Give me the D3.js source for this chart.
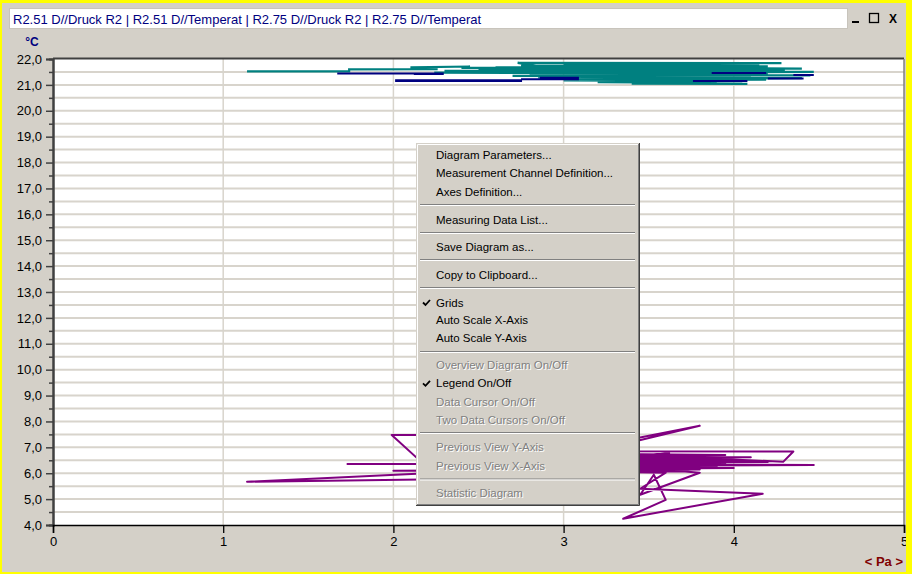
<!DOCTYPE html>
<html><head><meta charset="utf-8">
<script src="https://cdn.jsdelivr.net/npm/d3@7"></script>
<style>
html,body{margin:0;padding:0;background:#ffff00;}
svg{display:block;}
text{font-family:"Liberation Sans",Arial,sans-serif;}
</style></head>
<body>
<svg id="chart" width="912" height="574"></svg>
<script>
// ---------- data ----------
const titleText = "R2.51 D//Druck R2 | R2.51 D//Temperat | R2.75 D//Druck R2 | R2.75 D//Temperat";
const yUnit = "°C";
const xUnit = "< Pa >";
const xTicks = [0, 1, 2, 3, 4, 5];
const yTicks = [4, 5, 6, 7, 8, 9, 10, 11, 12, 13, 14, 15, 16, 17, 18, 19, 20, 21, 22];
const yMinorTicks = [4.5, 5.5, 6.5, 7.5, 8.5, 9.5, 10.5, 11.5, 12.5, 13.5, 14.5, 15.5, 16.5, 17.5, 18.5, 19.5, 20.5, 21.5];

// R2.75 trace (teal) : pressure [Pa], temperature [°C]
const seriesTeal = [
  [1.14,21.52],[1.74,21.52],[1.74,21.60],[2.26,21.61],
  [2.10,21.68],[2.45,21.71],[2.40,21.66],[2.90,21.67],
  [2.73,21.85],[4.28,21.84],[3.00,21.80],[4.15,21.78],
  [2.75,21.74],[4.20,21.72],[2.60,21.68],[4.40,21.63],
  [2.50,21.60],[4.30,21.57],[2.30,21.54],[4.47,21.50],
  [2.24,21.47],[4.20,21.44],[2.80,21.41],[4.45,21.37],
  [2.70,21.35],[4.10,21.32],[2.85,21.29],[4.40,21.26],
  [2.95,21.23],[4.19,21.20],[3.00,21.17],[4.05,21.14],
  [3.20,21.11],[3.90,21.08],[3.40,21.05],[4.08,21.04]
];
// R2.51 trace (navy), null = gap in the recording
const seriesNavy = [
  [1.67,21.44],[2.29,21.44],[2.29,21.42],[2.12,21.42], null,
  [2.01,21.15],[2.75,21.15],[2.75,21.18],[2.01,21.18], null,
  [2.75,21.22],[3.09,21.22], null,
  [2.86,21.28],[3.09,21.28], null,
  [3.87,21.46],[4.19,21.46], null,
  [3.76,21.15],[4.08,21.15], null,
  [4.20,21.25],[4.41,21.25], null,
  [4.35,21.38],[4.47,21.38]
];
// third trace (purple)
const seriesPurple = [
  [2.60,6.12],[1.14,5.67],[2.60,5.80],
  [2.60,6.38],[1.73,6.36],[2.60,6.37],
  [2.60,6.10],[2.00,6.10],[2.60,6.11],
  [2.22,6.10],[1.99,7.48],[2.60,7.48],
  [3.30,7.19],[3.80,7.83],[3.30,7.04],
  [3.30,6.85],[4.35,6.84],[4.29,6.44],[3.30,6.74],
  [3.95,6.70],[3.30,6.66],[4.10,6.62],[3.30,6.58],
  [3.85,6.55],[3.30,6.52],[4.05,6.49],[3.30,6.46],
  [4.20,6.43],[3.30,6.40],[3.95,6.37],[3.30,6.34],
  [4.47,6.32],[3.30,6.29],[3.90,6.26],[3.30,6.23],
  [4.00,6.20],[3.30,6.17],[3.80,6.14],[3.30,6.11],
  [3.70,6.08],[3.30,6.05],[3.60,6.02],
  [3.45,5.40],[4.17,5.21],[3.35,4.24],[3.60,4.97],
  [3.53,5.94],[3.45,5.17],[3.80,6.02],[3.30,6.30],
  [3.62,6.78],[3.40,6.62],[3.75,6.58],[3.42,6.44],[3.68,6.24]
];

// ---------- layout ----------
const svg = d3.select("#chart");
const W = 912, H = 574;
const plot = {left: 53, right: 904, top: 59, bottom: 525};

svg.append("rect").attr("x",0).attr("y",0).attr("width",W).attr("height",H).attr("fill","#ffff00");
svg.append("rect").attr("x",2).attr("y",3).attr("width",904).attr("height",569).attr("fill","#d4d0c8");

// title bar
svg.append("rect").attr("x",9.5).attr("y",8.5).attr("width",838).attr("height",20)
  .attr("fill","#ffffff").attr("stroke","#c8c4bc");
svg.append("text").attr("x",13).attr("y",23.5).attr("font-size",13).attr("fill","#000080").text(titleText);
// window buttons
svg.append("rect").attr("x",852).attr("y",21).attr("width",7).attr("height",2).attr("fill","#000");
svg.append("rect").attr("x",869.5).attr("y",13.5).attr("width",9).attr("height",9).attr("fill","none").attr("stroke","#000").attr("stroke-width",1.3);
svg.append("text").attr("x",893).attr("y",23).attr("text-anchor","middle").attr("font-size",12).attr("font-weight","bold").attr("fill","#000").text("X");

// scales
const x = d3.scaleLinear().domain([0,5]).range([plot.left, plot.right]);
const y = d3.scaleLinear().domain([4,22]).range([plot.bottom, plot.top]);

// plot background
svg.append("rect").attr("x",plot.left).attr("y",plot.top).attr("width",plot.right-plot.left).attr("height",plot.bottom-plot.top).attr("fill","#ffffff");

// grid
const grid = svg.append("g");
grid.selectAll("line.h").data(yTicks.concat(yMinorTicks).filter(v => v>4 && v<22)).enter().append("line")
  .attr("x1",plot.left).attr("x2",plot.right).attr("y1",d=>y(d)).attr("y2",d=>y(d))
  .attr("stroke","#d8d4cc").attr("stroke-width",2);
grid.selectAll("line.v").data(xTicks.filter(v => v>0 && v<5)).enter().append("line")
  .attr("y1",plot.top).attr("y2",plot.bottom).attr("x1",d=>x(d)).attr("x2",d=>x(d))
  .attr("stroke","#d8d4cc").attr("stroke-width",1.5);

// clip
svg.append("clipPath").attr("id","clip").append("rect")
  .attr("x",plot.left).attr("y",plot.top).attr("width",plot.right-plot.left).attr("height",plot.bottom-plot.top);
const line = d3.line().defined(d => d !== null).x(d => x(d[0])).y(d => y(d[1]));
const traces = svg.append("g").attr("clip-path","url(#clip)");
traces.append("path").datum(seriesPurple).attr("d",line).attr("fill","none").attr("stroke","#800080").attr("stroke-width",2).attr("stroke-linejoin","round");
traces.append("path").datum(seriesTeal).attr("d",line).attr("fill","none").attr("stroke","#008080").attr("stroke-width",2.2);
traces.append("path").datum(seriesNavy).attr("d",line).attr("fill","none").attr("stroke","#000080").attr("stroke-width",2);

// frame
svg.append("line").attr("x1",plot.left).attr("x2",plot.right).attr("y1",plot.top-0.5).attr("y2",plot.top-0.5).attr("stroke","#404040").attr("stroke-width",2);
svg.append("line").attr("x1",plot.right).attr("x2",plot.right).attr("y1",plot.top).attr("y2",plot.bottom).attr("stroke","#808080").attr("stroke-width",1.5);

// y axis
const fmt = d => d.toFixed(1).replace(".", ",");
const yAxis = svg.append("g").attr("transform",`translate(${plot.left},0)`)
  .call(d3.axisLeft(y).tickValues(yTicks).tickSize(7).tickFormat(fmt));
const yMinor = svg.append("g").attr("transform",`translate(${plot.left},0)`)
  .call(d3.axisLeft(y).tickValues(yMinorTicks).tickSize(4).tickFormat(""));
[yAxis, yMinor].forEach(g => {
  g.select(".domain").attr("stroke","#404040").attr("stroke-width",2);
  g.selectAll(".tick line").attr("stroke","#404040").attr("stroke-width",1.5);
});
yAxis.selectAll(".tick text").attr("font-family","Liberation Sans, Arial, sans-serif").attr("font-size",13).attr("fill","#000").attr("x",-11);

// x axis
const xAxis = svg.append("g").attr("transform",`translate(0,${plot.bottom})`)
  .call(d3.axisBottom(x).tickValues(xTicks).tickSize(8).tickFormat(d3.format("d")));
xAxis.select(".domain").attr("stroke","#000").attr("stroke-width",1.5);
xAxis.selectAll(".tick line").attr("stroke","#000").attr("stroke-width",1.3);
xAxis.selectAll(".tick text").attr("font-family","Liberation Sans, Arial, sans-serif").attr("font-size",13).attr("fill","#000").attr("y",12);

// unit labels
svg.append("text").attr("x",32).attr("y",46).attr("text-anchor","middle").attr("font-size",12).attr("font-weight","bold").attr("fill","#000080").text(yUnit);
svg.append("text").attr("x",903).attr("y",566).attr("text-anchor","end").attr("font-size",13).attr("font-weight","bold").attr("fill","#800000").text(xUnit);

// yellow right strip overlays clipped "5"
svg.append("rect").attr("x",906).attr("y",0).attr("width",6).attr("height",H).attr("fill","#ffff00");

// ---------- context menu ----------
const menuItems = [
  {t:"Diagram Parameters...", y:155},
  {t:"Measurement Channel Definition...", y:173},
  {t:"Axes Definition...", y:191.5},
  {sep:204.5},
  {t:"Measuring Data List...", y:219.5},
  {sep:232.5},
  {t:"Save Diagram as...", y:247},
  {sep:259.5},
  {t:"Copy to Clipboard...", y:274.5},
  {sep:287.5},
  {t:"Grids", y:302.5, check:true},
  {t:"Auto Scale X-Axis", y:320},
  {t:"Auto Scale Y-Axis", y:337.5},
  {sep:351.5},
  {t:"Overview Diagram On/Off", y:365, dis:true},
  {t:"Legend On/Off", y:383.3, check:true},
  {t:"Data Cursor On/Off", y:401.5, dis:true},
  {t:"Two Data Cursors On/Off", y:419.5, dis:true},
  {sep:432.5},
  {t:"Previous View Y-Axis", y:447.3, dis:true},
  {t:"Previous View X-Axis", y:465.5, dis:true},
  {sep:479},
  {t:"Statistic Diagram", y:493.3, dis:true}
];
const menu = svg.append("g");
const mx0 = 416, mx1 = 640, my0 = 143, my1 = 506;
menu.append("rect").attr("x",mx0).attr("y",my0).attr("width",mx1-mx0).attr("height",my1-my0).attr("fill","#d4d0c8");
menu.append("path").attr("d",`M${mx0+0.5},${my1-1}V${my0+0.5}H${mx1-1}`).attr("stroke","#d4d0c8").attr("fill","none");
menu.append("path").attr("d",`M${mx0+1.5},${my1-2}V${my0+1.5}H${mx1-2}`).attr("stroke","#ffffff").attr("fill","none");
menu.append("path").attr("d",`M${mx0},${my1-0.5}H${mx1-0.5}V${my0}`).attr("stroke","#404040").attr("fill","none");
menu.append("path").attr("d",`M${mx0+1},${my1-1.5}H${mx1-1.5}V${my0+1}`).attr("stroke","#808080").attr("fill","none");
menuItems.forEach(it => {
  if (it.sep !== undefined) {
    menu.append("line").attr("x1",420).attr("x2",635).attr("y1",it.sep).attr("y2",it.sep).attr("stroke","#808080");
    menu.append("line").attr("x1",420).attr("x2",635).attr("y1",it.sep+1).attr("y2",it.sep+1).attr("stroke","#ffffff");
    return;
  }
  if (it.dis) {
    menu.append("text").attr("x",437).attr("y",it.y+4+1).attr("font-size",11.5).attr("fill","#ffffff").text(it.t);
    menu.append("text").attr("x",436).attr("y",it.y+4).attr("font-size",11.5).attr("fill","#808080").text(it.t);
  } else {
    menu.append("text").attr("x",436).attr("y",it.y+4).attr("font-size",11.5).attr("fill","#000").text(it.t);
  }
  if (it.check) {
    menu.append("path").attr("d",`M423,${it.y}l2.5,2.5l4.5,-5`).attr("stroke","#000").attr("stroke-width",1.8).attr("fill","none");
  }
});
</script>
</body></html>
